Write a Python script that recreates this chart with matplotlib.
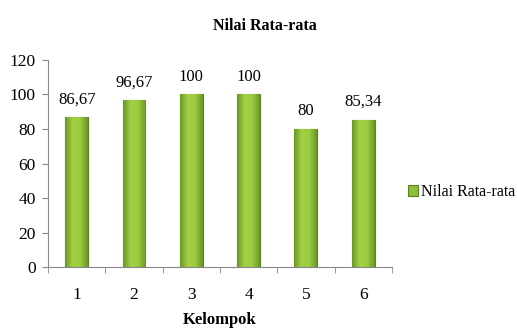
import matplotlib.pyplot as plt
import numpy as np
from matplotlib.colors import LinearSegmentedColormap

kelompok = ["1", "2", "3", "4", "5", "6"]
nilai = [86.67, 96.67, 100, 100, 80, 85.34]
label_nilai = ["86,67", "96,67", "100", "100", "80", "85,34"]
yticks = [0, 20, 40, 60, 80, 100, 120]

plt.rcParams["font.family"] = ["Liberation Serif", "DejaVu Serif"]

fig = plt.figure(figsize=(5.17, 3.29), dpi=100)
ax = fig.add_axes([0.093, 0.188, 0.665, 0.630])

x = np.arange(len(kelompok))
bars = ax.bar(x, nilai, width=0.40, color="#8CC03A", edgecolor="#5E7F24",
              linewidth=0.8, label="Nilai Rata-rata", zorder=2)

# horizontal gradient inside each bar, clipped to the bar shape
cmap = LinearSegmentedColormap.from_list("g", ["#6A9826", "#A4D046", "#9CCB40", "#6A9826"])
grad = np.linspace(0, 1, 64).reshape(1, -1)
for b in bars:
    bx, by = b.get_x(), b.get_y()
    im = ax.imshow(grad, cmap=cmap, aspect="auto", zorder=2.5,
                   extent=[bx, bx + b.get_width(), by, by + b.get_height()])
    im.set_clip_path(b)

for xi, v, s in zip(x, nilai, label_nilai):
    ax.annotate(s, (xi, v), xytext=(0, 7), textcoords="offset points",
                ha="center", va="bottom", fontsize=12)

ax.set_xlim(-0.5, len(kelompok) - 0.5)
ax.set_ylim(0, 120)
ax.set_yticks(yticks)
ax.set_xticks(x)
ax.set_xticklabels(kelompok)
ax.set_xticks(np.arange(len(kelompok) + 1) - 0.5, minor=True)
ax.tick_params(axis="x", which="major", length=0, labelsize=12.5, pad=14)
ax.tick_params(axis="x", which="minor", length=4, color="#888888")
ax.tick_params(axis="y", length=4, color="#888888", labelsize=12.5, pad=5)
for side in ["top", "right"]:
    ax.spines[side].set_visible(False)
for side in ["left", "bottom"]:
    ax.spines[side].set_color("#888888")
ax.set_xlabel("Kelompok", fontsize=12, fontweight="bold", labelpad=7)

fig.suptitle("Nilai Rata-rata", fontsize=11.5, fontweight="bold", x=0.512, y=0.945)
fig.legend(handles=[bars], labels=["Nilai Rata-rata"], loc="center left",
           bbox_to_anchor=(0.79, 0.416), frameon=False, fontsize=11.5,
           handlelength=0.6, handleheight=0.6, handletextpad=0.2,
           borderaxespad=0, borderpad=0)

fig.savefig("out.png", dpi=100)
